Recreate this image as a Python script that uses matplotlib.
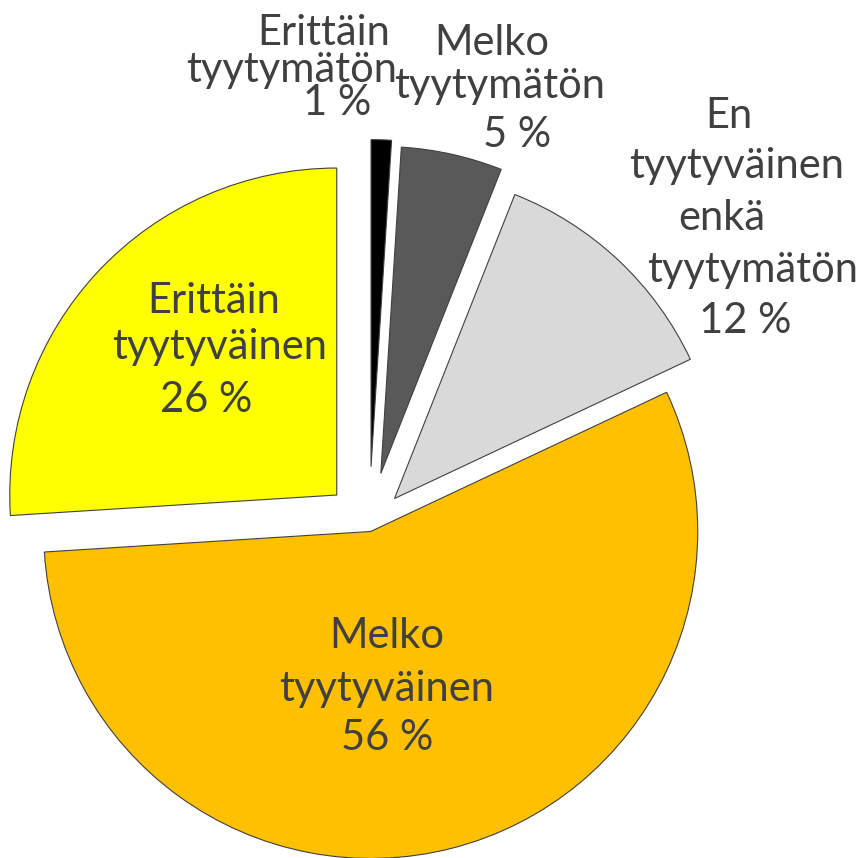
import matplotlib
matplotlib.use("Agg")
import matplotlib.pyplot as plt

categories = ["Erittäin tyytymätön", "Melko tyytymätön",
              "En tyytyväinen enkä tyytymätön", "Melko tyytyväinen",
              "Erittäin tyytyväinen"]
values = [1, 5, 12, 56, 26]
colors = ["#000000", "#595959", "#D9D9D9", "#FFC000", "#FFFF00"]
explode = [0.18, 0.163, 0.113, 0.019, 0.136]

# label layout: per-line centre x and baseline y, in figure pixels from top-left
line_x = [[324, 292, 337], [492, 500, 517], [729, 737, 722, 753, 745],
          [387, 387, 387], [214, 220, 206]]
line_base = [[45, 82, 115], [55, 98, 147], [128, 178, 230, 282, 333],
             [648, 701, 750], [313, 359, 412]]

W, H = 861, 858
fig = plt.figure(figsize=(W / 100, H / 100), dpi=100)
ax = fig.add_axes([0, 0, 1, 1])
wedges, _ = ax.pie(values, colors=colors, explode=explode, startangle=90,
                   counterclock=False, radius=1.0,
                   wedgeprops=dict(edgecolor="#404040", linewidth=0.8))
ax.set_xlim(-1.129, 1.504)
ax.set_ylim(-1.017, 1.607)
ax.set_aspect("auto")
ax.axis("off")

inv = ax.transData.inverted()
for cat, val, xs, bs in zip(categories, values, line_x, line_base):
    lines = cat.split(" ") + [f"{val} %"]
    for line, px, py in zip(lines, xs, bs):
        x, y = inv.transform((px, H - py))
        ax.text(x, y, line, ha="center", va="baseline", family="Lato",
                fontsize=30, color="#404040")

fig.savefig("out.png", dpi=100)
